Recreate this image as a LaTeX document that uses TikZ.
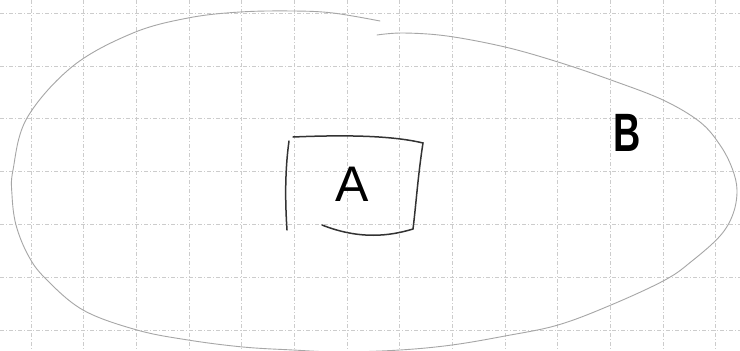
\documentclass[tikz,border=0pt]{standalone}
\usepackage{fontspec}
\setsansfont{Liberation Sans}
\begin{document}
\begin{tikzpicture}[x=1pt,y=-1pt,
  gridline/.style={draw=gray!40, line width=0.4pt, dash pattern=on 4pt off 2pt on 1pt off 2pt},
  outline/.style={draw=gray!70, line width=0.9pt, line cap=round},
  boxline/.style={draw=black!80, line width=1.5pt, line cap=round},
  lbl/.style={inner sep=0pt, font=\sffamily\fontsize{50}{50}\selectfont}]
\fill[white] (0,0) rectangle (740,351);
\useasboundingbox (0,0) rectangle (740,351);
% grid
\foreach \k in {0,...,13} {\draw[gridline] ({30.7+52.67*\k},0) -- ({30.7+52.67*\k},351);}
\foreach \k in {0,...,6} {\draw[gridline] (0,{13+52.8*\k}) -- (740,{13+52.8*\k});}
% ellipse B (two overlapping strokes)
\draw[outline] plot[smooth, tension=0.6] coordinates {
 (377,35) (403,33) (447,36) (505,47) (558,62) (611,80) (663,100) (700,122)
 (720,145) (732,168) (737,190) (733,214) (720,236) (692,261) (665,280) (611,305) (558,325)
 (505,336) (452,345) (400,350) (340,352) (293,350) (243,347) (188,340)
 (137,330) (83,310) (45,278) (28,255) (16,225) (12,195) (13,170) (27,118)
 (73,66) (133,33) (188,18) (240,12) (293,11) (333,13) (380,21)};
% box A
\draw[boxline] (293,137) .. controls (340,135) and (390,135) .. (423,143)
  .. controls (418,175) and (416,205) .. (413,229)
  .. controls (390,236) and (360,240) .. (322,225);
\draw[boxline] (289,141) .. controls (285,170) and (285,200) .. (287,230);
\node[lbl] (A) at (352,184) {A};
\node[lbl, xscale=0.7, font=\sffamily\bfseries\fontsize{54}{54}\selectfont] (B) at (627,133) {B};
\end{tikzpicture}
\end{document}
